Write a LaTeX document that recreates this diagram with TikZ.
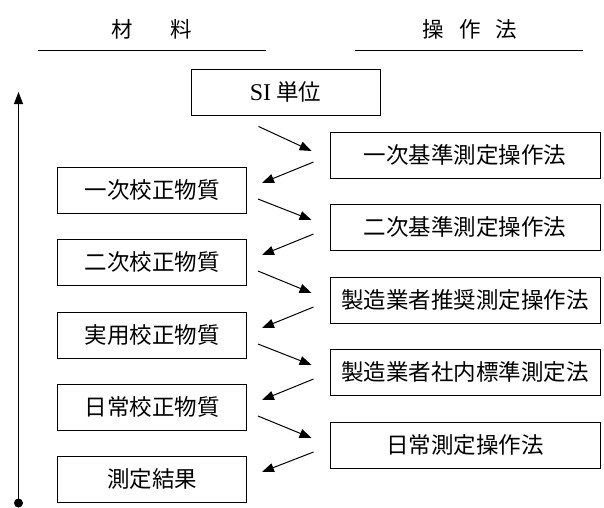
\documentclass[tikz,border=0pt]{standalone}
\usepackage{fontspec}
\newfontfamily\jp{Noto Sans CJK JP}
\newfontfamily\lat{Liberation Serif}
\usetikzlibrary{arrows.meta}
\begin{document}
\begin{tikzpicture}[x=1pt,y=-1pt,
  every node/.style={font=\jp\fontsize{22.5}{26}\selectfont},
  hdr/.style={font=\jp\fontsize{21.5}{26}\selectfont},
  box/.style={draw,line width=0.9pt,minimum height=46pt,inner sep=0pt},
  lbox/.style={box,minimum width=189pt},
  rbox/.style={box,minimum width=270pt},
  sibox/.style={box,minimum width=189pt},
  arr/.style={line width=1pt,-{Triangle[length=12pt,width=9pt]}},
  rule/.style={line width=1pt}]
\useasboundingbox (0,0) rectangle (604,507);
\node[hdr] (hm) at (152,29) {材\hspace{38pt}料};
\node[hdr] (hs) at (470,29) {操\hspace{15pt}作\hspace{15pt}法};
\coordinate (ul1) at (38,50); \coordinate (ul2) at (266,50);
\coordinate (ur1) at (355,50); \coordinate (ur2) at (583,50);
\draw[rule] (ul1) -- (ul2);
\draw[rule] (ur1) -- (ur2);
\node[sibox] (si) at (285.5,92) {{\lat\fontsize{24}{26}\selectfont SI} 単位};
\node[rbox] (r1) at (465,155) {一次基準測定操作法};
\node[rbox] (r2) at (465,227) {二次基準測定操作法};
\node[rbox] (r3) at (465,300) {製造業者推奨測定操作法};
\node[rbox] (r4) at (465,372) {製造業者社内標準測定法};
\node[rbox] (r5) at (465,445) {日常測定操作法};
\node[lbox] (l1) at (152,190) {一次校正物質};
\node[lbox] (l2) at (152,262) {二次校正物質};
\node[lbox] (l3) at (152,335) {実用校正物質};
\node[lbox] (l4) at (152,407) {日常校正物質};
\node[lbox] (l5) at (152,479) {測定結果};
\draw[arr] ([shift={(-27,11)}]si.south) -- ([shift={(-18,-4)}]r1.west);
\foreach \r/\l in {r1/l1,r2/l2,r3/l3,r4/l4,r5/l5}
  \draw[arr] ([shift={(-16,7)}]\r.west) -- ([shift={(15,-7)}]\l.east);
\foreach \l/\r in {l1/r2,l2/r3,l3/r4,l4/r5}
  \draw[arr] ([shift={(11,9)}]\l.east) -- ([shift={(-18,-7)}]\r.west);
\coordinate (vb) at (18.5,503);
\coordinate (vt) at (18.5,92);
\fill (vb) circle (4.5pt);
\draw[arr] (vb) -- (vt);
\end{tikzpicture}
\end{document}
